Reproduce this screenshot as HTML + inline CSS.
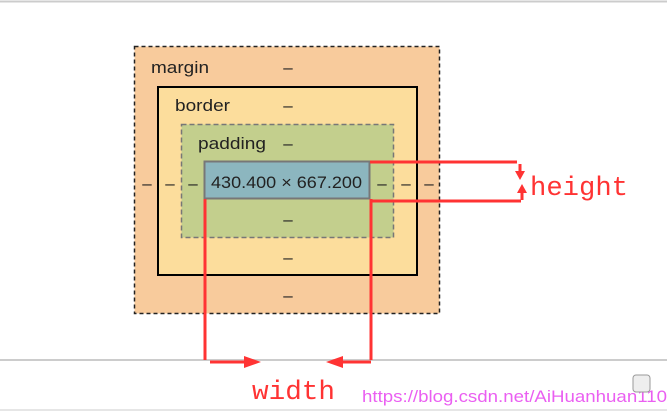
<!DOCTYPE html>
<html><head><meta charset="utf-8"><style>
html,body{margin:0;padding:0;background:#fff;width:667px;height:414px;overflow:hidden}
svg{display:block}
.t{font-family:"Liberation Sans",sans-serif;font-size:17px;fill:#222}
.r{font-family:"Liberation Mono","DejaVu Sans Mono",monospace;font-size:27px;fill:#f33}
</style></head><body>
<svg width="667" height="414" viewBox="0 0 667 414">
<line x1="0" y1="1.5" x2="667" y2="1.5" stroke="#ccc" stroke-width="2"/>
<rect x="134.5" y="46.5" width="305" height="267" fill="#f8cb9c" stroke="#222" stroke-width="1.5" stroke-dasharray="4,3"/>
<rect x="158" y="87" width="259" height="188" fill="#fcdd9c" stroke="#000" stroke-width="2"/>
<rect x="181.5" y="124.5" width="212" height="113" fill="#c3cf8d" stroke="#777" stroke-width="1.5" stroke-dasharray="5,3"/>
<rect x="204.5" y="161.5" width="165" height="37" fill="#8cb6bf" stroke="#777" stroke-width="2"/>
<text class="t" x="151" y="73" textLength="58" lengthAdjust="spacingAndGlyphs">margin</text>
<text class="t" x="175" y="111" textLength="55" lengthAdjust="spacingAndGlyphs">border</text>
<text class="t" x="198" y="149" textLength="68" lengthAdjust="spacingAndGlyphs">padding</text>
<text class="t" x="211" y="188" textLength="151" lengthAdjust="spacingAndGlyphs">430.400 × 667.200</text>
<g class="t" text-anchor="middle">
<text x="288" y="73">–</text><text x="288" y="111">–</text><text x="288" y="149">–</text>
<text x="147" y="189">–</text><text x="170" y="189">–</text><text x="193" y="189">–</text>
<text x="382" y="189">–</text><text x="406" y="189">–</text><text x="429" y="189">–</text>
<text x="288" y="225">–</text><text x="288" y="263">–</text><text x="288" y="301">–</text>
</g>
<line x1="0" y1="360" x2="667" y2="360" stroke="#ccc" stroke-width="2"/>
<line x1="0" y1="410" x2="667" y2="410" stroke="#e6e6e6" stroke-width="2"/>
<g stroke="#f33" stroke-width="3" fill="none">
<line x1="370" y1="162" x2="517" y2="162"/>
<line x1="370" y1="201" x2="521" y2="201"/>
<line x1="205" y1="199" x2="205" y2="360"/>
<line x1="371" y1="199" x2="371" y2="360"/>
<line x1="210" y1="362" x2="245" y2="362"/>
<line x1="342" y1="362" x2="371" y2="362"/>
<line x1="520" y1="164" x2="520" y2="172"/>
<line x1="522" y1="192" x2="522" y2="200"/>
</g>
<g fill="#f33">
<polygon points="244,356 261,362 244,368"/>
<polygon points="343,356 326,362 343,368"/>
<polygon points="515,171 525,171 520,180"/>
<polygon points="517,193 527,193 522,184"/>
</g>
<text class="r" x="530" y="195" textLength="98" lengthAdjust="spacingAndGlyphs">height</text>
<text class="r" x="252" y="399" textLength="83" lengthAdjust="spacingAndGlyphs">width</text>
<text x="362" y="402" font-family="Liberation Sans,sans-serif" font-size="17" fill="#e84ef0" opacity="0.9" textLength="305" lengthAdjust="spacingAndGlyphs">https://blog.csdn.net/AiHuanhuan110</text>
<rect x="633" y="375" width="17" height="17" rx="3" fill="#eee" stroke="#999"/>
</svg>
</body></html>
